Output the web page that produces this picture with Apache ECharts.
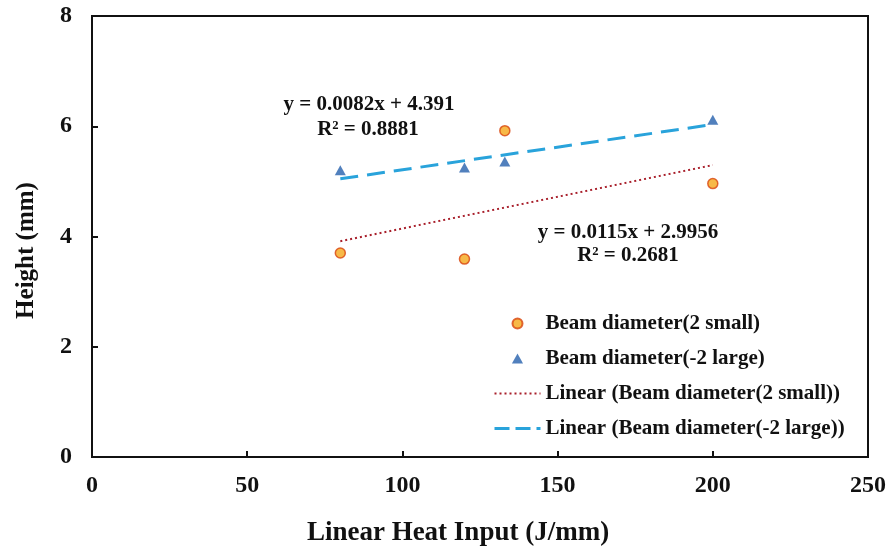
<!DOCTYPE html>
<html>
<head>
<meta charset="utf-8">
<script src="https://cdn.jsdelivr.net/npm/echarts@6/dist/echarts.min.js"></script>
<style>
  html, body { margin: 0; padding: 0; background: #fff; }
  #chart { width: 889px; height: 552px; }
</style>
</head>
<body>
<div id="chart"></div>
<script>
// Heat input (J/mm) for each run
const heatInput = [80, 120, 133, 200];
// Bead height (mm) per beam diameter setting
const heightSmall = [3.70, 3.59, 5.92, 4.96];
const heightLarge = [5.20, 5.25, 5.36, 6.12];
// Linear fit coefficients [slope, intercept]
const fitSmall = [0.0115, 2.9956];
const fitLarge = [0.0082, 4.391];
const r2Small = '0.2681';
const r2Large = '0.8881';
const seriesNames = [
  'Beam diameter(2 small)',
  'Beam diameter(-2 large)',
  'Linear (Beam diameter(2 small))',
  'Linear (Beam diameter(-2 large))'
];
const xTicks = [0, 50, 100, 150, 200, 250];
const yTicks = [0, 2, 4, 6, 8];

const FONT = '"Liberation Serif", "Times New Roman", serif';
const SMALL_FILL = '#F5A81A', SMALL_EDGE = '#D8440E';
const LARGE_FILL = '#2560AC';
const SMALL_FIT = '#A81E2A', LARGE_FIT = '#29A3DB';
const DOTS = [2, 3], DASHES = [18, 9];

const pairs = (xs, ys) => xs.map((x, i) => [x, ys[i]]);
const xMin = Math.min(...heatInput), xMax = Math.max(...heatInput);
const trend = (fit) => [[xMin, fit[0] * xMin + fit[1]], [xMax, fit[0] * xMax + fit[1]]];

const chart = echarts.init(document.getElementById('chart'), null, { renderer: 'canvas' });

const axisCommon = {
  axisLine: { show: true, onZero: false, lineStyle: { color: '#111', width: 2 } },
  axisTick: { show: true, inside: true, length: 6, lineStyle: { color: '#111', width: 2 } },
  splitLine: { show: false },
  axisLabel: { color: '#111', fontFamily: FONT, fontWeight: 'bold', fontSize: 24 }
};
const titleStyle = { color: '#111', fontFamily: FONT, fontWeight: 'bold' };

const eqText = (txt, x, y) => ({
  type: 'text', z: 10, x: x, y: y,
  style: { text: txt, fill: '#111', font: 'bold 21px ' + FONT, align: 'center', verticalAlign: 'middle' }
});

chart.setOption({
  backgroundColor: '#fff',
  animation: false,
  grid: { left: 92, right: 19, top: 16, bottom: 93, show: true, borderColor: '#111', borderWidth: 2, backgroundColor: 'transparent' },
  xAxis: Object.assign({}, axisCommon, {
    type: 'value', min: xTicks[0], max: xTicks[xTicks.length - 1], interval: 50,
    name: 'Linear Heat Input (J/mm)', nameLocation: 'middle', nameGap: 63,
    nameTextStyle: Object.assign({ fontSize: 27, padding: [0, 44, 0, 0] }, titleStyle),
    axisLabel: Object.assign({}, axisCommon.axisLabel, { margin: 17 })
  }),
  yAxis: Object.assign({}, axisCommon, {
    type: 'value', min: yTicks[0], max: yTicks[yTicks.length - 1], interval: 2,
    name: 'Height (mm)', nameLocation: 'middle', nameGap: 53, nameRotate: 90,
    nameTextStyle: Object.assign({ fontSize: 25, padding: [0, 28, 0, 0] }, titleStyle),
    axisLabel: Object.assign({}, axisCommon.axisLabel, { margin: 20 })
  }),
  legend: {
    orient: 'vertical', left: 493, top: 313, padding: 0,
    itemWidth: 46, itemHeight: 10, itemGap: 14,
    textStyle: { color: '#111', fontFamily: FONT, fontWeight: 'bold', fontSize: 21 },
    data: [
      { name: seriesNames[0], icon: 'circle' },
      { name: seriesNames[1], icon: 'path://M5,0 L10,9 L0,9 Z' },
      { name: seriesNames[2], itemStyle: { opacity: 0 }, lineStyle: { color: SMALL_FIT, width: 2, type: DOTS } },
      { name: seriesNames[3], itemStyle: { opacity: 0 }, lineStyle: { color: LARGE_FIT, width: 3, type: [15, 6] } }
    ]
  },
  series: [
    {
      name: seriesNames[0], type: 'scatter', data: pairs(heatInput, heightSmall),
      symbol: 'circle', symbolSize: 10, z: 4,
      itemStyle: { color: SMALL_FILL, borderColor: SMALL_EDGE, borderWidth: 1.5 }
    },
    {
      name: seriesNames[1], type: 'scatter', data: pairs(heatInput, heightLarge),
      symbol: 'triangle', symbolSize: [11, 10], z: 4,
      itemStyle: { color: LARGE_FILL }
    },
    {
      name: seriesNames[2], type: 'line', data: trend(fitSmall),
      symbol: 'none', z: 3, silent: true,
      lineStyle: { color: SMALL_FIT, width: 2, type: DOTS },
      itemStyle: { color: SMALL_FIT }
    },
    {
      name: seriesNames[3], type: 'line', data: trend(fitLarge),
      symbol: 'none', z: 3, silent: true,
      lineStyle: { color: LARGE_FIT, width: 3, type: DASHES },
      itemStyle: { color: LARGE_FIT }
    }
  ],
  graphic: [
    eqText('y = ' + fitLarge[0] + 'x + ' + fitLarge[1], 369, 105),
    eqText('R² = ' + r2Large, 368, 130),
    eqText('y = ' + fitSmall[0] + 'x + ' + fitSmall[1], 628, 233),
    eqText('R² = ' + r2Small, 628, 256)
  ]
});
</script>
</body>
</html>
